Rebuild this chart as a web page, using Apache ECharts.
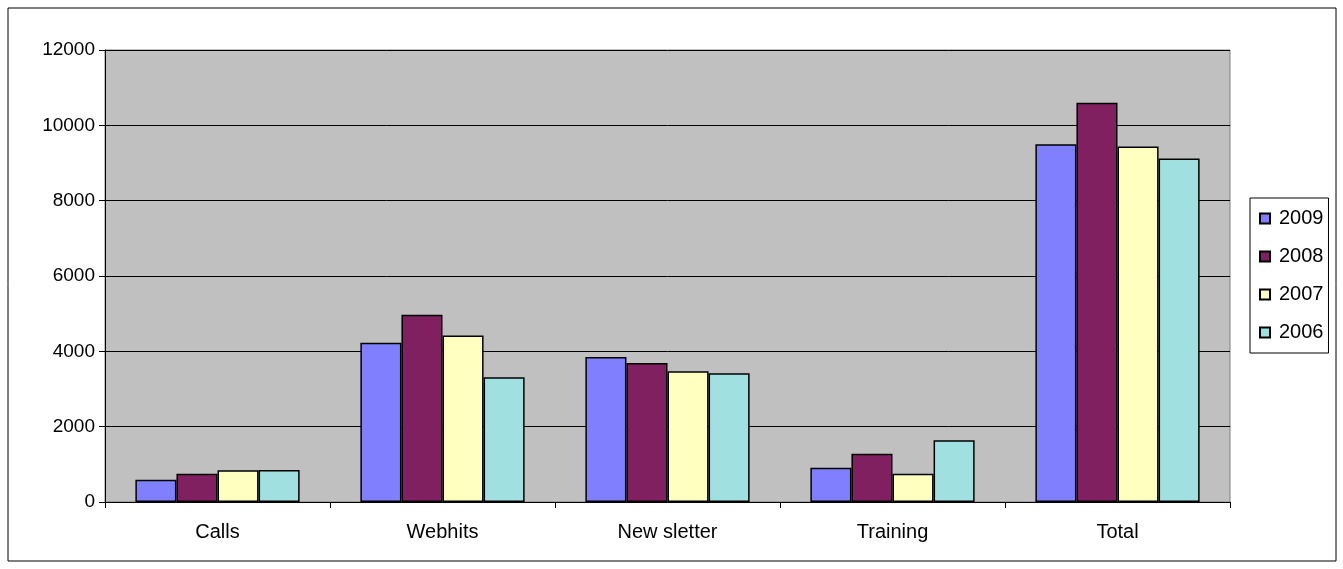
<!DOCTYPE html>
<html>
<head>
<meta charset="utf-8">
<script src="https://cdn.jsdelivr.net/npm/echarts@6/dist/echarts.min.js"></script>
<style>
html,body{margin:0;padding:0;background:#fff;}
#c{width:1343px;height:569px;}
</style>
</head>
<body>
<div id="c"></div>
<script>
const categories = ['Calls', 'Webhits', 'New sletter', 'Training', 'Total'];
const seriesNames = ['2009', '2008', '2007', '2006'];
const v2009 = [590, 4230, 3850, 910, 9500];
const v2008 = [750, 4970, 3690, 1280, 10600];
const v2007 = [840, 4420, 3470, 750, 9440];
const v2006 = [850, 3310, 3420, 1640, 9120];
const colors = ['#8080FF', '#802060', '#FFFFC0', '#A0E0E0'];
const values = [v2009, v2008, v2007, v2006];

const chart = echarts.init(document.getElementById('c'));
const font = 'Liberation Sans, Arial, sans-serif';
chart.setOption({
  animation: false,
  textStyle: { fontFamily: font },
  graphic: [{
    type: 'rect', shape: { x: 8, y: 8, width: 1328, height: 553 },
    style: { fill: 'none', stroke: '#000', lineWidth: 1 }, silent: true
  }],
  grid: {
    left: 105, right: 113, top: 50, bottom: 67,
    show: true, backgroundColor: '#C0C0C0', borderColor: '#808080', borderWidth: 1
  },
  legend: {
    orient: 'vertical', left: 1250, top: 198,
    padding: [9, 5, 9, 9],
    borderColor: '#000', borderWidth: 1,
    itemWidth: 10, itemHeight: 10, itemGap: 15,
    icon: 'rect',
    textStyle: { fontSize: 20, color: '#000', fontFamily: font, lineHeight: 23, padding: [0, 0, 0, 4] },
    data: seriesNames
  },
  xAxis: {
    type: 'category', data: categories,
    axisLine: { lineStyle: { color: '#000', width: 1 } },
    axisTick: { show: true, length: 6, lineStyle: { color: '#000' } },
    axisLabel: { color: '#000', fontSize: 20, margin: 20, fontFamily: font }
  },
  yAxis: {
    type: 'value', min: 0, max: 12000, interval: 2000,
    axisLine: { show: true, lineStyle: { color: '#000', width: 1 } },
    axisTick: { show: true, length: 6, lineStyle: { color: '#000' } },
    axisLabel: { color: '#000', fontSize: 19, margin: 10, fontFamily: font, formatter: v => String(v) },
    splitLine: { lineStyle: { color: '#000', width: 1 } }
  },
  series: seriesNames.map((n, i) => ({
    name: n, type: 'bar', data: values[i],
    barGap: '0%', barCategoryGap: '27%',
    itemStyle: { color: colors[i], borderColor: '#000', borderWidth: 1.5 }
  }))
});
</script>
</body>
</html>
